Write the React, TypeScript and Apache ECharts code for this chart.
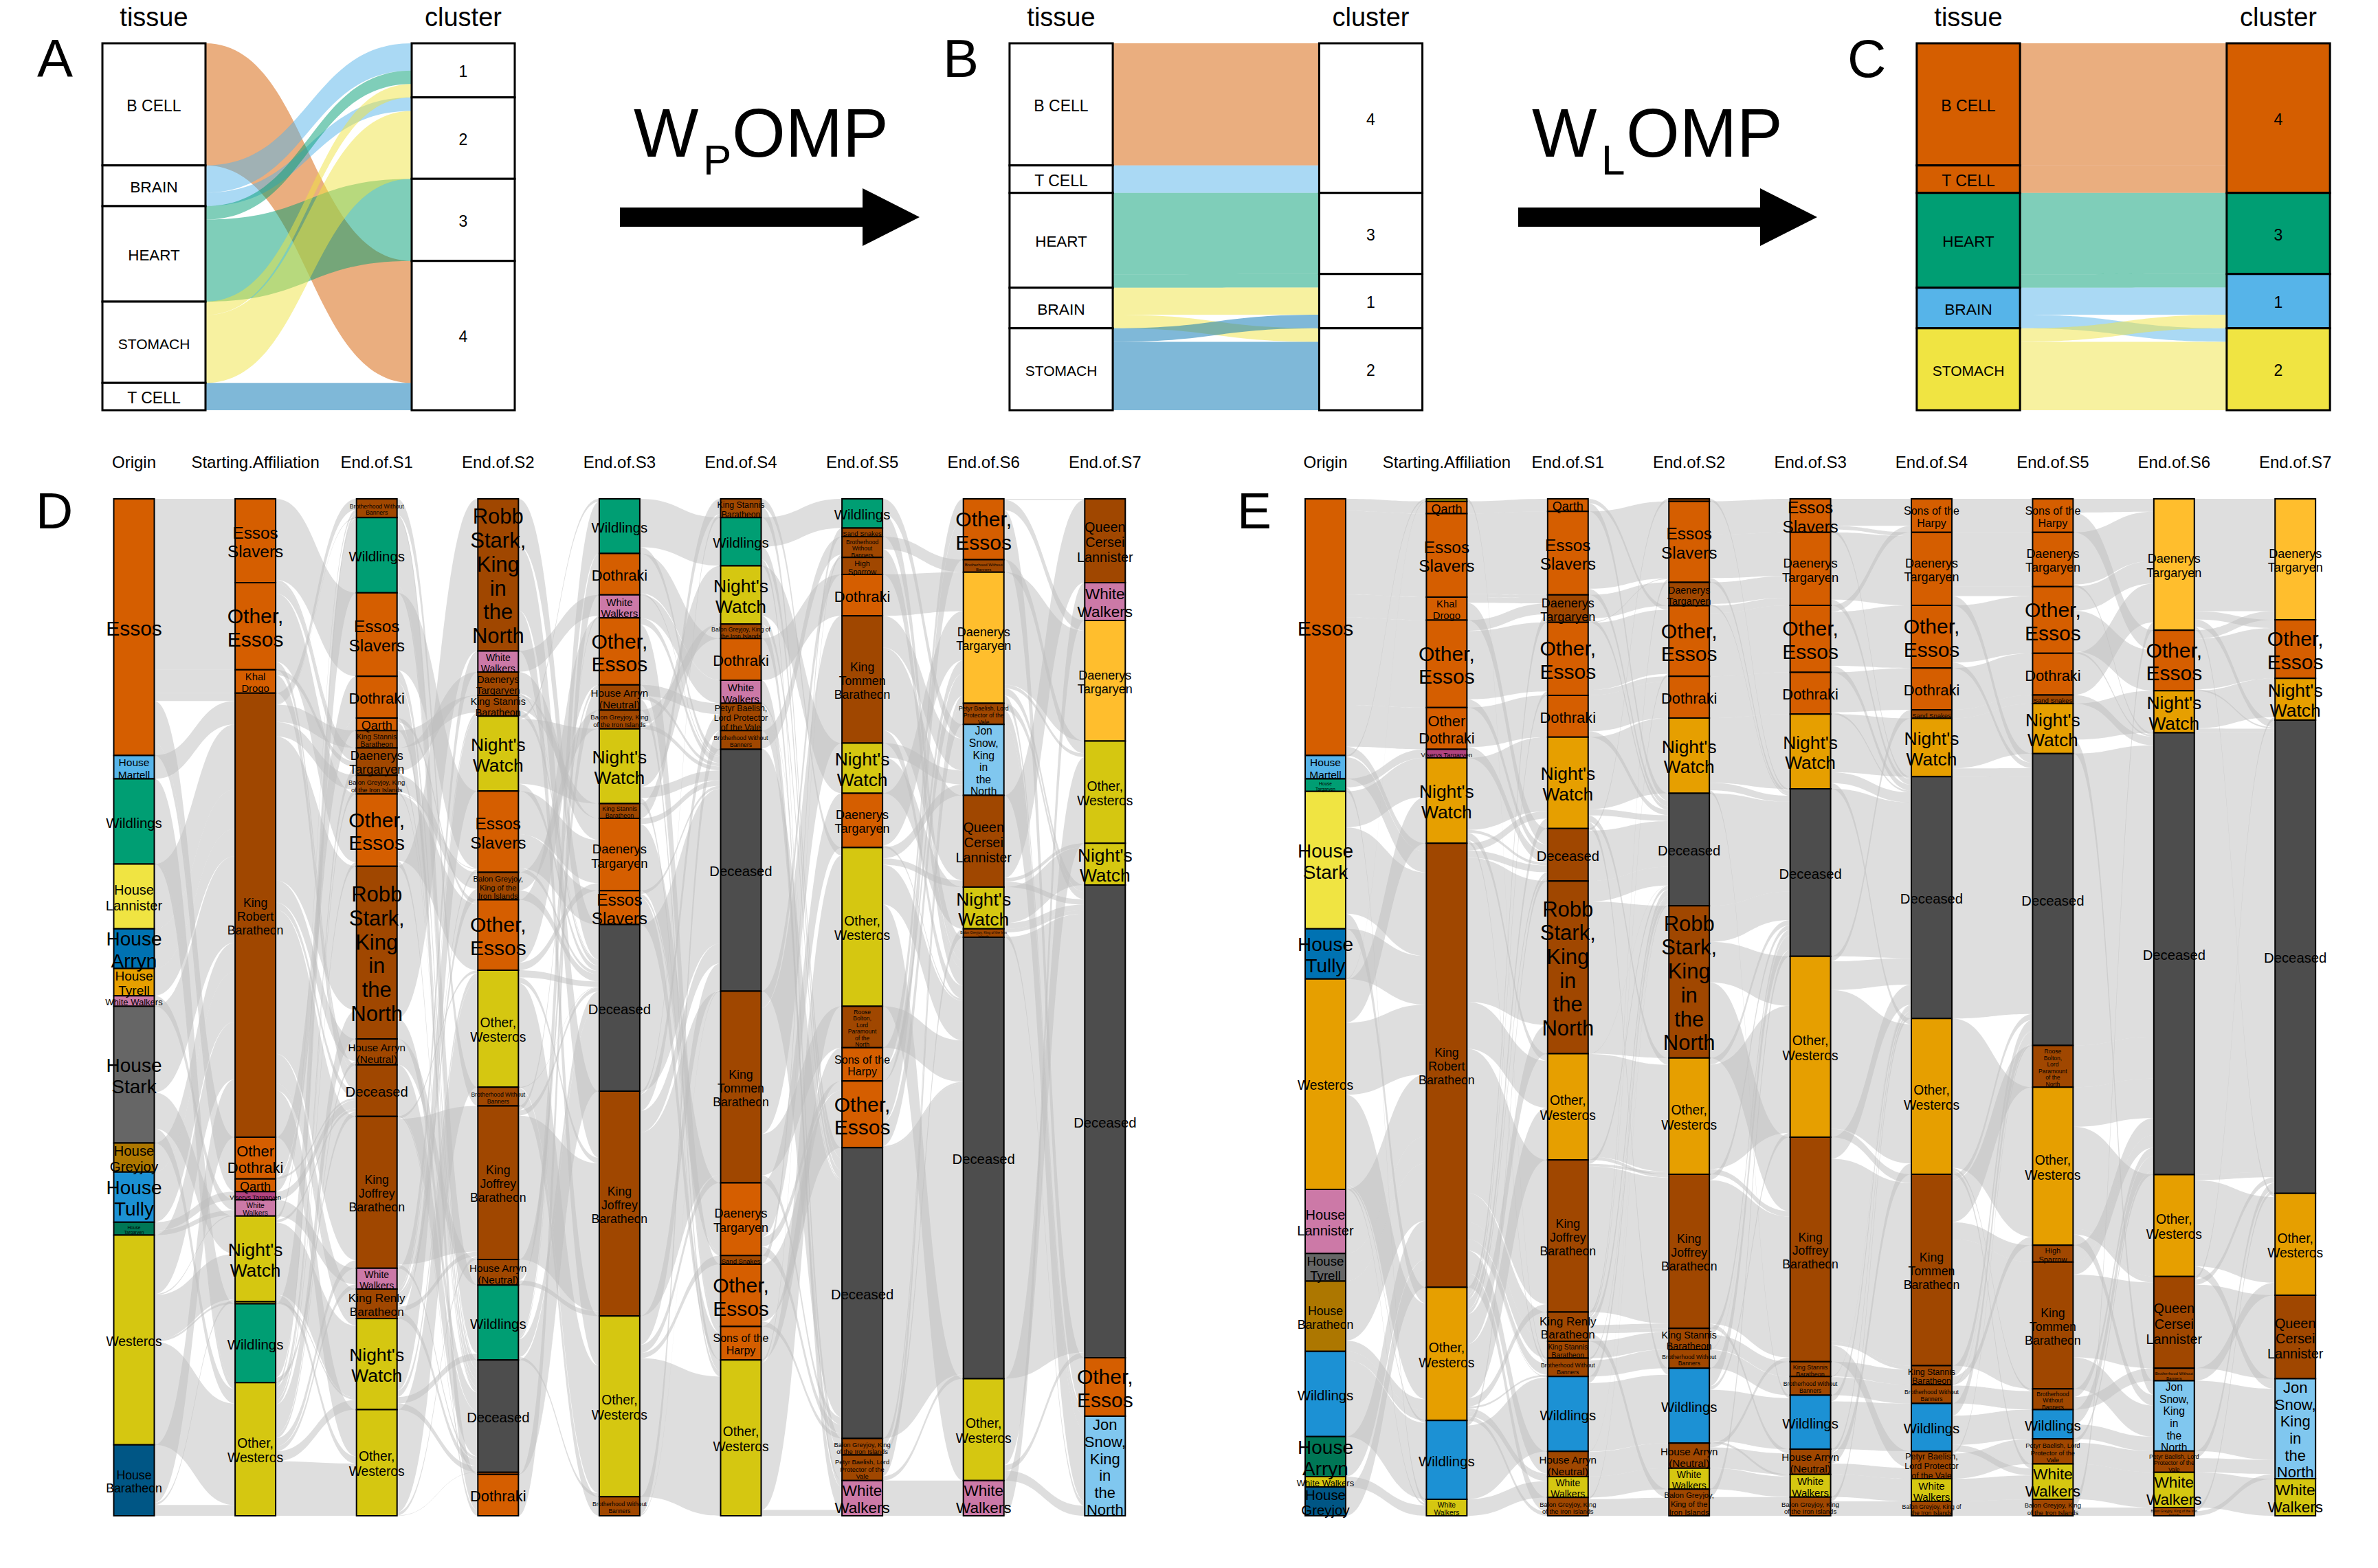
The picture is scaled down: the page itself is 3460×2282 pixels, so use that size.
import React, { useEffect, useRef } from "react";
import * as echarts from "echarts";

// ---------- palette ----------
const OR = "#D55E00", BR = "#A04700", GN = "#009E73", YL = "#D5C711", PK = "#CC79A7", DK = "#4D4D4D";
const GD = "#FFBE2D", SK = "#80C7EF", AM = "#E69F00", BL = "#1C91D4", LB = "#56B4E9", LY = "#F0E442";
const DB = "#0072B2", GY = "#666666", OC = "#AD7700", TG = "#007756", NV = "#005685", MG = "#B14380", WH = "#FFFFFF";
const FONT = "Liberation Sans";

// ---------- panels A, B, C ----------
const abcColumns = ["tissue", "cluster"];
const aLabels = [["B CELL", "BRAIN", "HEART", "STOMACH", "T CELL"], ["1", "2", "3", "4"]];
const aValues = [[435, 145, 340, 290, 97], [193, 290, 292, 532]];
const aFlows = [[[0, 3, 435], [1, 0, 97], [1, 1, 48], [2, 0, 48], [2, 2, 292], [3, 0, 48], [3, 1, 242], [4, 3, 97]]];
const aFlowColors = [[OR, LB, LB, GN, GN, LY, LY, DB]];
const bLabels = [["B CELL", "T CELL", "HEART", "BRAIN", "STOMACH"], ["4", "3", "1", "2"]];
const bValues = [[435, 98, 338, 144, 292], [533, 289, 193, 292]];
const bFlows = [[[0, 0, 435], [1, 0, 98], [2, 1, 290], [2, 2, 48], [3, 2, 96], [3, 3, 48], [4, 2, 48], [4, 3, 243]]];
const bFlowColors = [[OR, LB, GN, GN, LY, LY, DB, DB]];
const cFlowColors = [[OR, OR, GN, GN, LB, LB, LY, LY]];
const cFills = [[OR, OR, GN, LB, LY], [OR, GN, LB, LY]];
const whiteFills = [[WH, WH, WH, WH, WH], [WH, WH, WH, WH]];
const aFonts = [[23, 22.8, 22.4, 21, 23], [23, 23, 23, 23]];
const bFonts = [[23, 23, 22.4, 22.8, 21], [23, 23, 23, 23]];

// ---------- panels D, E ----------
const deColumns = ["Origin", "Starting.Affiliation", "End.of.S1", "End.of.S2", "End.of.S3", "End.of.S4", "End.of.S5", "End.of.S6", "End.of.S7"];
const ES = "Essos\nSlavers", OE = "Other,\nEssos", OW = "Other,\nWesteros", NW = "Night's\nWatch", WW = "White\nWalkers";
const DT = "Daenerys\nTargaryen", KJ = "King\nJoffrey\nBaratheon", KT = "King\nTommen\nBaratheon", SH = "Sons of the\nHarpy";
const RS = "Robb\nStark,\nKing\nin\nthe\nNorth", JS = "Jon\nSnow,\nKing\nin\nthe\nNorth", QC = "Queen\nCersei\nLannister";
const BW = "Brotherhood Without\nBanners", BG = "Balon Greyjoy, King\nof the Iron Islands", BG3 = "Balon Greyjoy,\nKing of the\nIron Islands";
const HA = "House Arryn\n(Neutral)", KS = "King Stannis\nBaratheon", RB = "Roose\nBolton,\nLord\nParamount\nof the\nNorth";
const PB = "Petyr Baelish, Lord\nProtector of the\nVale", PB2 = "Petyr Baelish,\nLord Protector\nof the Vale", HS = "High\nSparrow";

const dLabels = [
  ["Essos", "House\nMartell", "Wildlings", "House\nLannister", "House\nArryn", "House\nTyrell", "White Walkers", "House\nStark", "House\nGreyjoy", "House\nTully", "House\nTargaryen", "Westeros", "House\nBaratheon"],
  [ES, OE, "Khal\nDrogo", "King\nRobert\nBaratheon", "Other\nDothraki", "Qarth", "Viserys Targaryen", WW, NW, "", "Wildlings", OW],
  [BW, "Wildlings", ES, "Dothraki", "Qarth", KS, DT, BG, OE, RS, HA, "Deceased", KJ, WW, "King Renly\nBaratheon", NW, OW],
  [RS, WW, DT, KS, NW, ES, BG3, OE, OW, BW, KJ, HA, "Wildlings", "Deceased", "", "Dothraki"],
  ["Wildlings", "Dothraki", WW, OE, HA, BG, NW, KS, DT, ES, "Deceased", KJ, OW, BW],
  [KS, "Wildlings", NW, "Balon Greyjoy, King of\nthe Iron Islands", "Dothraki", WW, PB2, BW, "Deceased", KT, DT, "Sand Snakes", OE, SH, OW],
  ["Wildlings", "Sand Snakes", "Brotherhood\nWithout\nBanners", HS, "Dothraki", KT, NW, DT, OW, RB, SH, OE, "Deceased", BG, PB, WW],
  [OE, BW, DT, PB, JS, QC, NW, "Balon Greyjoy, King of the Iron\nIslands", "Deceased", OW, WW],
  [QC, WW, DT, OW, NW, "Deceased", OE, JS],
];
const dValues = [
  [713, 65, 237, 180, 110, 76, 29, 380, 81, 139, 36, 583, 197],
  [233, 242, 65, 1234, 116, 35, 23, 45, 238, 6, 219, 370],
  [52, 209, 232, 116, 35, 48, 76, 52, 201, 480, 72, 143, 422, 58, 82, 253, 295],
  [423, 58, 65, 58, 208, 226, 76, 196, 325, 52, 427, 71, 208, 312, 6, 115],
  [152, 115, 64, 186, 70, 52, 208, 41, 201, 94, 463, 625, 502, 53],
  [52, 134, 162, 40, 116, 64, 76, 52, 672, 533, 202, 24, 173, 93, 433],
  [81, 24, 58, 47, 115, 354, 139, 151, 441, 115, 93, 185, 808, 46, 71, 98],
  [169, 35, 364, 59, 197, 255, 116, 23, 1227, 283, 98],
  [233, 105, 335, 284, 116, 1314, 162, 277],
];
const dFills = [
  [OR, LB, GN, LY, DB, AM, PK, GY, OC, BL, TG, YL, NV],
  [OR, OR, OR, BR, OR, OR, MG, PK, YL, YL, GN, YL],
  [BR, GN, OR, OR, OR, BR, BR, BR, OR, BR, BR, BR, BR, PK, BR, YL, YL],
  [BR, PK, BR, BR, YL, OR, BR, OR, YL, BR, BR, BR, GN, DK, OR, OR],
  [GN, OR, PK, OR, BR, BR, YL, BR, OR, OR, DK, BR, YL, BR],
  [BR, GN, YL, BR, OR, PK, BR, BR, DK, BR, OR, BR, OR, OR, YL],
  [GN, BR, BR, BR, OR, BR, YL, OR, YL, BR, OR, OR, DK, BR, BR, PK],
  [OR, BR, GD, BR, SK, BR, YL, BR, DK, YL, PK],
  [BR, PK, GD, YL, YL, DK, OR, SK],
];
const dFonts = [
  [30, 15.5, 20.4, 20, 28, 19, 13, 28, 20.4, 28, 6.5, 19.3, 17.7],
  [24.4, 30, 14.8, 17.7, 21.9, 18, 9.4, 10.3, 26.4, 10, 20.4, 19.3],
  [8.6, 20.4, 24.4, 21.9, 18, 10.3, 18, 9.4, 30, 31, 15.2, 20.3, 17.7, 14, 17.1, 26.4, 19.3],
  [31, 14, 14.3, 14.3, 26.4, 24.4, 11.2, 30, 19.3, 8.6, 17.7, 15.2, 20.4, 20.3, 10, 21.9],
  [20.4, 21.9, 15, 30, 15.2, 9.6, 26.4, 9, 18.5, 24.4, 20.3, 17.7, 19.3, 8.6],
  [12.3, 20.4, 26.4, 8.7, 21.9, 15, 12.4, 8.6, 20.3, 17.7, 18, 9.5, 30, 16, 19.3],
  [20.4, 9.5, 8.6, 11, 21.9, 17.7, 26.4, 18, 19.3, 8.5, 16, 30, 20.3, 9.4, 9.4, 22.5],
  [30, 6, 18, 8.6, 15.7, 19.8, 26.4, 5, 20.3, 19.3, 22.5],
  [19.8, 22.5, 18, 19.3, 26.4, 20.3, 30, 22],
];
const dFlows = [
  [[0,0,233],[0,1,242],[0,2,65],[0,3,22],[0,4,116],[0,5,35],[1,3,65],[2,10,219],[2,11,18],[3,3,180],[4,3,110],[5,3,76],[6,7,29],[7,3,240],[7,8,100],[7,11,40],[8,3,81],[9,3,139],[10,6,23],[10,7,13],[11,3,160],[11,7,3],[11,8,120],[11,9,6],[11,11,280],[12,3,161],[12,8,6],[12,11,30]],
  [[0,2,225],[0,6,8],[1,6,30],[1,8,190],[1,11,22],[2,6,15],[2,11,50],[3,0,30],[3,1,2],[3,5,48],[3,7,40],[3,9,400],[3,10,62],[3,11,20],[3,12,400],[3,14,82],[3,15,20],[3,16,130],[4,3,110],[4,11,6],[5,4,35],[6,11,23],[7,13,45],[8,0,10],[8,11,8],[8,15,200],[8,16,20],[9,15,6],[10,1,205],[10,11,14],[11,0,12],[11,6,23],[11,7,12],[11,8,11],[11,9,80],[11,10,10],[11,12,22],[11,13,13],[11,15,27],[11,16,145]],
  [[0,9,45],[0,13,7],[1,12,190],[1,13,19],[2,5,215],[2,13,17],[3,13,16],[3,15,100],[4,7,12],[4,13,23],[5,3,48],[6,2,65],[6,13,11],[7,6,46],[7,13,6],[8,5,2],[8,7,184],[8,15,15],[9,0,423],[9,13,57],[10,11,71],[10,13,1],[11,13,137],[11,14,6],[12,8,7],[12,10,405],[12,13,10],[13,1,58],[14,3,10],[14,5,9],[14,6,30],[14,10,13],[14,13,20],[15,4,200],[15,8,18],[15,12,18],[15,13,17],[16,8,285],[16,10,9],[16,13,1]],
  [[0,10,130],[0,11,180],[0,12,113],[1,2,58],[2,8,60],[2,10,5],[3,7,41],[3,10,17],[4,0,8],[4,6,180],[4,10,20],[5,8,120],[5,9,94],[5,10,12],[6,5,50],[6,10,26],[7,3,175],[7,8,21],[8,10,20],[8,11,15],[8,12,290],[9,10,2],[9,13,50],[10,4,12],[10,10,15],[10,11,400],[11,4,58],[11,11,13],[12,0,144],[12,2,6],[12,10,50],[12,12,8],[13,10,312],[14,10,6],[15,1,115]],
  [[0,1,134],[0,8,18],[1,4,110],[1,8,5],[2,5,64],[3,8,18],[3,12,150],[3,13,18],[4,6,30],[4,8,10],[4,14,30],[5,3,40],[5,8,12],[6,2,162],[6,8,30],[6,14,16],[7,0,41],[8,8,16],[8,10,185],[9,8,9],[9,10,10],[9,13,75],[10,8,463],[11,0,9],[11,6,46],[11,8,60],[11,9,510],[12,8,80],[12,9,23],[12,11,14],[12,14,385],[13,7,50],[13,8,3]],
  [[0,8,22],[0,12,30],[1,0,81],[1,12,35],[1,15,18],[2,6,139],[2,12,23],[3,13,40],[4,4,115],[5,15,64],[6,12,5],[6,14,71],[7,2,50],[7,12,2],[8,12,672],[9,3,47],[9,5,350],[9,9,115],[9,12,21],[10,7,151],[10,11,26],[10,12,25],[11,1,24],[12,11,159],[12,12,14],[13,10,93],[14,2,8],[14,8,415],[14,15,16]],
  [[0,4,40],[0,8,41],[1,8,24],[2,1,35],[2,8,23],[3,8,47],[4,2,115],[5,4,88],[5,5,230],[5,8,36],[6,4,39],[6,6,100],[7,2,145],[7,8,6],[8,4,30],[8,5,18],[8,8,110],[8,9,283],[9,8,115],[10,0,55],[10,2,38],[11,0,114],[11,2,66],[11,8,5],[12,8,808],[13,2,23],[13,7,23],[14,3,59],[14,8,12],[15,10,98]],
  [[0,0,3],[0,2,29],[0,6,140],[1,3,35],[2,2,312],[2,3,10],[2,5,20],[2,6,22],[3,5,20],[3,7,39],[4,7,197],[5,0,230],[5,4,10],[5,5,15],[6,4,100],[6,5,16],[7,5,10],[7,7,13],[8,5,1227],[9,3,240],[9,5,15],[9,7,28],[10,1,98]],
];

const eLabels = [
  ["Essos", "House\nMartell", "House\nTargaryen", "House\nStark", "House\nTully", "Westeros", "House\nLannister", "House\nTyrell", "House\nBaratheon", "Wildlings", "House\nArryn", "White Walkers", "House\nGreyjoy"],
  ["", "Qarth", ES, "Khal\nDrogo", OE, "Other\nDothraki", "Viserys Targaryen", NW, "King\nRobert\nBaratheon", OW, "Wildlings", WW],
  ["Qarth", ES, DT, OE, "Dothraki", NW, "Deceased", RS, OW, KJ, "King Renly\nBaratheon", KS, BW, "Wildlings", HA, WW, BG],
  ["", ES, DT, OE, "Dothraki", NW, "Deceased", RS, OW, KJ, KS, BW, "Wildlings", HA, WW, BG3],
  [ES, DT, OE, "Dothraki", NW, "Deceased", OW, KJ, KS, BW, "Wildlings", HA, WW, BG],
  [SH, DT, OE, "Dothraki", "Sand Snakes", NW, "Deceased", OW, KT, KS, BW, "Wildlings", PB2, WW, "Balon Greyjoy, King of\nthe Iron Islands"],
  [SH, DT, OE, "Dothraki", "Sand Snakes", NW, "Deceased", RB, OW, HS, KT, "Brotherhood\nWithout\nBanners", "Wildlings", PB, WW, BG],
  [DT, OE, NW, "Deceased", OW, QC, BW, JS, PB, WW, "Balon Greyjoy, King of the Iron\nIslands"],
  [DT, OE, NW, "Deceased", OW, QC, JS, WW],
];
const eValues = [
  [713, 65, 35, 382, 139, 585, 178, 77, 195, 237, 111, 29, 80],
  [7, 34, 232, 64, 243, 116, 24, 237, 1234, 370, 219, 46],
  [35, 232, 76, 203, 116, 254, 146, 480, 295, 423, 81, 47, 51, 208, 70, 58, 51],
  [7, 225, 65, 196, 116, 209, 313, 423, 323, 428, 59, 52, 208, 70, 58, 74],
  [93, 203, 186, 116, 208, 465, 503, 624, 41, 52, 150, 70, 63, 52],
  [93, 203, 174, 116, 24, 162, 672, 433, 532, 53, 52, 133, 76, 63, 40],
  [93, 151, 185, 116, 24, 139, 811, 116, 439, 47, 352, 58, 81, 70, 98, 46],
  [365, 168, 117, 1228, 283, 255, 35, 195, 59, 98, 23],
  [336, 163, 116, 1315, 283, 232, 278, 103],
];
const eFills = [
  [OR, LB, GN, LY, DB, AM, PK, GY, OC, BL, TG, YL, NV],
  [YL, OR, OR, OR, OR, OR, MG, AM, BR, AM, BL, YL],
  [OR, OR, BR, OR, OR, AM, BR, BR, AM, BR, BR, BR, BR, BL, BR, YL, BR],
  [BR, OR, BR, OR, OR, AM, DK, BR, AM, BR, BR, BR, BL, BR, YL, BR],
  [OR, OR, OR, OR, AM, DK, AM, BR, BR, BR, BL, BR, YL, BR],
  [OR, OR, OR, OR, BR, AM, DK, AM, BR, BR, BR, BL, BR, YL, BR],
  [OR, OR, OR, OR, BR, AM, DK, BR, AM, BR, BR, BR, BL, BR, YL, BR],
  [GD, OR, AM, DK, AM, BR, BR, SK, BR, YL, BR],
  [GD, OR, AM, DK, AM, BR, SK, YL],
];
const eFonts = [
  [30, 15.5, 6.5, 28, 28, 19.3, 20, 18.7, 17.7, 20.4, 28, 13, 20.4],
  [10, 18, 24.4, 14.8, 30, 21.9, 9.4, 26.4, 17.7, 19.3, 20.4, 10.3],
  [18, 24.4, 18, 30, 21.9, 26.4, 20.3, 31, 19.3, 17.7, 17.1, 10.3, 8.6, 20.4, 15.2, 14, 9.4],
  [10, 24.4, 14.3, 30, 21.9, 26.4, 20.3, 31, 19.3, 17.7, 14.3, 8.6, 20.4, 15.2, 14, 11.2],
  [24.4, 18.5, 30, 21.9, 26.4, 20.3, 19.3, 17.7, 9, 8.6, 20.4, 15.2, 15, 9.6],
  [16, 18, 30, 21.9, 9.5, 26.4, 20.3, 19.3, 17.7, 12.3, 8.6, 20.4, 12.4, 15, 8.7],
  [16, 18, 30, 21.9, 9.5, 26.4, 20.3, 8.5, 19.3, 11, 17.7, 8.6, 20.4, 9.4, 22.5, 9.4],
  [18, 30, 26.4, 20.3, 19.3, 19.8, 6, 15.7, 8.6, 22.5, 5],
  [18, 30, 26.4, 20.3, 19.3, 19.8, 22, 22.5],
];
const eFlows = [
  [[0,1,34],[0,2,232],[0,3,64],[0,4,243],[0,5,116],[0,8,24],[1,0,5],[1,8,60],[2,6,24],[2,11,11],[3,7,100],[3,8,240],[3,9,42],[4,8,139],[5,0,2],[5,7,120],[5,8,200],[5,9,250],[5,10,7],[5,11,6],[6,8,178],[7,8,77],[8,8,165],[8,9,30],[9,9,25],[9,10,212],[10,8,111],[11,11,29],[12,8,80]],
  [[0,12,7],[1,0,34],[2,1,224],[2,2,8],[3,2,16],[3,6,48],[4,2,30],[4,3,190],[4,6,23],[5,4,110],[5,6,6],[6,6,24],[7,5,200],[7,6,8],[7,8,20],[7,12,9],[8,5,20],[8,6,20],[8,7,400],[8,8,130],[8,9,400],[8,10,81],[8,11,47],[8,12,30],[8,13,2],[8,14,62],[8,16,40],[9,2,22],[9,3,11],[9,5,27],[9,6,12],[9,7,80],[9,8,145],[9,9,22],[9,12,5],[9,14,8],[9,15,13],[9,16,11],[10,6,14],[10,13,205],[11,15,46]],
  [[0,3,12],[0,6,23],[1,1,215],[1,6,17],[2,2,65],[2,6,11],[3,1,2],[3,3,184],[3,4,15],[4,4,100],[4,6,16],[5,5,200],[5,6,18],[5,8,18],[5,12,18],[6,0,6],[6,6,140],[7,6,57],[7,7,423],[8,6,1],[8,8,285],[8,9,9],[9,6,11],[9,8,7],[9,9,405],[10,1,9],[10,3,7],[10,6,20],[10,9,13],[10,10,10],[10,15,22],[11,10,47],[12,6,6],[12,11,45],[13,6,18],[13,12,190],[14,6,1],[14,13,69],[15,14,58],[16,6,5],[16,15,46]],
  [[0,5,7],[1,0,93],[1,1,120],[1,5,12],[2,1,60],[2,5,5],[3,1,21],[3,2,175],[4,3,116],[5,4,180],[5,5,21],[5,10,8],[6,5,313],[7,5,100],[7,6,113],[7,7,210],[8,5,18],[8,6,290],[8,7,15],[9,5,16],[9,7,400],[9,11,12],[10,5,18],[10,8,41],[11,5,2],[11,9,50],[12,5,50],[12,6,10],[12,10,142],[12,12,6],[13,7,12],[13,11,58],[14,12,58],[15,5,22],[15,13,52]],
  [[0,0,75],[0,1,10],[0,6,8],[1,1,187],[1,6,16],[2,0,18],[2,2,150],[2,6,18],[3,3,111],[3,6,5],[4,5,162],[4,6,30],[4,7,16],[5,6,465],[6,4,14],[6,6,80],[6,7,385],[6,8,24],[7,6,60],[7,8,508],[7,9,10],[7,12,46],[8,9,41],[9,6,2],[9,10,50],[10,6,17],[10,11,133],[11,6,10],[11,7,30],[11,12,30],[12,13,63],[13,6,12],[13,14,40]],
  [[0,0,93],[1,1,151],[1,2,26],[1,6,26],[2,2,159],[2,6,15],[3,3,116],[4,4,24],[5,5,139],[5,6,23],[6,6,672],[7,8,415],[7,11,6],[7,14,12],[8,6,17],[8,7,116],[8,9,47],[8,10,352],[9,6,30],[9,8,23],[10,6,2],[10,11,50],[11,6,34],[11,12,81],[11,14,18],[12,6,6],[12,13,70],[13,14,63],[14,15,40]],
  [[0,0,38],[0,1,55],[1,0,145],[1,3,6],[2,0,67],[2,1,113],[2,3,5],[3,0,115],[4,3,24],[5,2,100],[5,7,39],[6,3,811],[7,3,116],[8,3,110],[8,4,283],[8,5,16],[8,7,30],[9,3,47],[10,3,35],[10,5,230],[10,7,87],[11,3,23],[11,6,35],[12,3,41],[12,7,40],[13,3,11],[13,8,59],[14,9,98],[15,0,23],[15,10,23]],
  [[0,0,312],[0,1,23],[0,3,20],[0,4,10],[1,0,24],[1,1,140],[1,3,4],[2,2,105],[2,3,12],[3,3,1228],[4,3,15],[4,4,240],[4,6,28],[5,2,8],[5,3,15],[5,5,232],[6,4,35],[7,6,195],[8,3,20],[8,6,39],[9,7,98],[10,3,10],[10,6,13]],
];

// ---------- helpers ----------
type Flow = number[];
type Panel = {
  columns: string[]; labels: string[][]; values: number[][]; fills: string[][]; fonts: number[][];
  flows: Flow[][]; flowColors?: string[][]; flowOpacity: number;
  left: number; width: number; top: number; height: number; ratio: number; total: number;
  border: number; headerSize: number; headerMargin: number;
};

// left and width run from the first column's centre to the last column's centre.
const panels: Panel[] = [
  { columns: abcColumns, labels: aLabels, values: aValues, fills: whiteFills, fonts: aFonts, flows: aFlows, flowColors: aFlowColors, flowOpacity: 0.5, left: 224, width: 450, top: 63, height: 534, ratio: 0.3333, total: 1307, border: 3, headerSize: 38, headerMargin: 19 },
  { columns: abcColumns, labels: bLabels, values: bValues, fills: whiteFills, fonts: bFonts, flows: bFlows, flowColors: bFlowColors, flowOpacity: 0.5, left: 1544, width: 450.5, top: 63, height: 534, ratio: 0.3333, total: 1307, border: 3, headerSize: 38, headerMargin: 19 },
  { columns: abcColumns, labels: bLabels, values: bValues, fills: cFills, fonts: bFonts, flows: bFlows, flowColors: cFlowColors, flowOpacity: 0.5, left: 2864, width: 451, top: 63, height: 534, ratio: 0.3333, total: 1307, border: 3, headerSize: 38, headerMargin: 19 },
  { columns: deColumns, labels: dLabels, values: dValues, fills: dFills, fonts: dFonts, flows: dFlows, flowOpacity: 0.5, left: 195, width: 1412.8, top: 726, height: 1480, ratio: 0.334, total: 2826, border: 2, headerSize: 24, headerMargin: 42 },
  { columns: deColumns, labels: eLabels, values: eValues, fills: eFills, fonts: eFonts, flows: eFlows, flowOpacity: 0.5, left: 1928.5, width: 1411.2, top: 726, height: 1480, ratio: 0.334, total: 2826, border: 2, headerSize: 24, headerMargin: 42 },
];

function stack(values: number[]): number[] {
  const out = [0];
  values.forEach((v, i) => out.push(out[i] + v));
  return out;
}

// Alluvium stacking: flows are ordered by the opposite column and fill their stratum.
function stackFlows(gap: Flow[], side: 0 | 1, values: number[]): number[][] {
  const starts = stack(values);
  const other = side === 0 ? 1 : 0;
  const result: number[][] = gap.map(() => [0, 0]);
  values.forEach((h, s) => {
    const ids = gap.map((_, i) => i).filter((i) => gap[i][side] === s);
    ids.sort((a, b) => gap[a][other] - gap[b][other]);
    const sum = ids.reduce((acc, i) => acc + gap[i][2], 0) || 1;
    let y = starts[s];
    ids.forEach((i) => {
      const next = y + (gap[i][2] * h) / sum;
      result[i] = [y, next];
      y = next;
    });
  });
  return result;
}

function buildOption() {
  const grid: any[] = [], xAxis: any[] = [], yAxis: any[] = [], series: any[] = [];
  panels.forEach((p, pi) => {
    grid.push({ left: p.left, top: p.top, width: p.width, height: p.height });
    xAxis.push({
      gridIndex: pi, type: "category", position: "top", data: p.columns, boundaryGap: false,
      axisLine: { show: false }, axisTick: { show: false }, splitLine: { show: false },
      axisLabel: { interval: 0, fontFamily: FONT, fontSize: p.headerSize, color: "#000", margin: p.headerMargin },
    });
    yAxis.push({ gridIndex: pi, type: "value", inverse: true, min: 0, max: p.total, show: false });

    const bands: any[] = [];
    p.flows.forEach((gap, g) => {
      const l = stackFlows(gap, 0, p.values[g]);
      const r = stackFlows(gap, 1, p.values[g + 1]);
      gap.forEach((_, i) => {
        bands.push({ g, a: l[i], b: r[i], color: p.flowColors ? p.flowColors[g][i] : "#BEBEBE" });
      });
    });
    const step = (api: any) => api.coord([1, 0])[0] - api.coord([0, 0])[0];
    series.push({
      type: "custom", coordinateSystem: "cartesian2d", xAxisIndex: pi, yAxisIndex: pi, z: 2, silent: true, clip: false,
      data: bands.map((b) => [b.g, b.a[0], b.a[1], b.b[0], b.b[1]]),
      renderItem: (params: any, api: any) => {
        const b = bands[params.dataIndex];
        const half = (step(api) * p.ratio) / 2;
        const x0 = api.coord([b.g, 0])[0] + half;
        const x1 = api.coord([b.g + 1, 0])[0] - half;
        const xm = (x0 + x1) / 2;
        const t0 = api.coord([b.g, b.a[0]])[1], b0 = api.coord([b.g, b.a[1]])[1];
        const t1 = api.coord([b.g, b.b[0]])[1], b1 = api.coord([b.g, b.b[1]])[1];
        const d = `M${x0} ${t0}C${xm} ${t0} ${xm} ${t1} ${x1} ${t1}L${x1} ${b1}C${xm} ${b1} ${xm} ${b0} ${x0} ${b0}Z`;
        return { type: "path", shape: { pathData: d }, style: { fill: b.color, opacity: p.flowOpacity, stroke: "none" } };
      },
    });

    const cells: any[] = [];
    p.values.forEach((col, c) => {
      const s = stack(col);
      col.forEach((_, i) => {
        cells.push({ c, y0: s[i], y1: s[i + 1], label: p.labels[c][i], fill: p.fills[c][i], size: p.fonts[c][i] });
      });
    });
    series.push({
      type: "custom", coordinateSystem: "cartesian2d", xAxisIndex: pi, yAxisIndex: pi, z: 3, silent: true, clip: false,
      data: cells.map((k) => [k.c, k.y0, k.y1]),
      renderItem: (params: any, api: any) => {
        const k = cells[params.dataIndex];
        const w = step(api) * p.ratio;
        const top = api.coord([k.c, k.y0]);
        const bottom = api.coord([k.c, k.y1]);
        const children: any[] = [{
          type: "rect",
          shape: { x: top[0] - w / 2, y: top[1], width: w, height: bottom[1] - top[1] },
          style: { fill: k.fill, stroke: "#000", lineWidth: p.border },
          z2: 1,
        }];
        if (k.label) {
          children.push({
            type: "text", z2: 50,
            style: {
              text: k.label, x: top[0], y: (top[1] + bottom[1]) / 2 + 2, align: "center", verticalAlign: "middle",
              fontFamily: FONT, fontSize: k.size, lineHeight: k.size * 1.12, fill: "#000",
            },
          });
        }
        return { type: "group", children };
      },
    });
  });

  const letter = (text: string, x: number, y: number, size: number) => ({
    type: "text", x, y, z: 10, style: { text, fontFamily: FONT, fontSize: size, fill: "#000", align: "left", verticalAlign: "middle" },
  });
  const arrow = (x0: number, x1: number, x2: number) => ({
    type: "polygon", z: 10,
    shape: { points: [[x0, 302], [x1, 302], [x1, 274], [x2, 316], [x1, 358], [x1, 330], [x0, 330]] },
    style: { fill: "#000" },
  });
  const graphic = {
    elements: [
      letter("A", 54, 85, 78), letter("B", 1372, 85, 78), letter("C", 2688, 85, 78),
      letter("D", 52, 743, 75), letter("E", 1800, 743, 75),
      letter("W", 922, 193, 100), letter("P", 1023, 232, 62), letter("OMP", 1065, 193, 100),
      letter("W", 2229, 193, 100), letter("L", 2330, 232, 62), letter("OMP", 2366, 193, 100),
      arrow(902, 1255, 1338), arrow(2209, 2561, 2644),
    ],
  };
  return { animation: false, backgroundColor: "#fff", grid, xAxis, yAxis, series, graphic };
}

export default function App() {
  const ref = useRef<HTMLDivElement>(null);
  useEffect(() => {
    const chart = echarts.init(ref.current!, undefined, { renderer: "svg" });
    chart.setOption(buildOption() as any);
    return () => chart.dispose();
  }, []);
  return <div ref={ref} style={{ position: "absolute", left: 0, top: 0, width: 3460, height: 2282, background: "#fff" }} />;
}
